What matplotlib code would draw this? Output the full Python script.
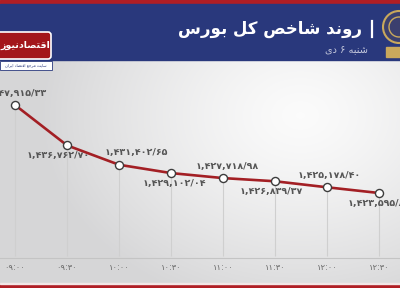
import numpy as np
import matplotlib
matplotlib.use('Agg')
import matplotlib.pyplot as plt
from matplotlib.patches import Rectangle, FancyBboxPatch, Circle

# data
times = ['09:00', '09:30', '10:00', '10:30', '11:00', '11:30', '12:00', '12:30']
index_vals = [1447915.33, 1436762.70, 1431402.65, 1429102.04,
              1427718.98, 1426839.37, 1425178.40, 1423595.80]
label_pos = ['up', 'down', 'up', 'down', 'up', 'down', 'up', 'down']
label_shift = [0, -9, 17, 3, 4, -4, 2, 0]   # px nudges, as in the reference
title = 'روند شاخص کل بورس'
subtitle = 'شنبه ۶ دی'
logo_name = 'اقتصادنیوز'
logo_sub = 'سایت مرجع اقتصاد ایران'

# tiny arabic shaper (iso, fin, ini, med) -- matplotlib does no shaping
FORMS = {
    'ا': ('\uFE8D', '\uFE8E', None, None),
    'ب': ('\uFE8F', '\uFE90', '\uFE91', '\uFE92'),
    'ت': ('\uFE95', '\uFE96', '\uFE97', '\uFE98'),
    'ج': ('\uFE9D', '\uFE9E', '\uFE9F', '\uFEA0'),
    'خ': ('\uFEA5', '\uFEA6', '\uFEA7', '\uFEA8'),
    'د': ('\uFEA9', '\uFEAA', None, None),
    'ر': ('\uFEAD', '\uFEAE', None, None),
    'ز': ('\uFEAF', '\uFEB0', None, None),
    'س': ('\uFEB1', '\uFEB2', '\uFEB3', '\uFEB4'),
    'ش': ('\uFEB5', '\uFEB6', '\uFEB7', '\uFEB8'),
    'ص': ('\uFEB9', '\uFEBA', '\uFEBB', '\uFEBC'),
    'ع': ('\uFEC9', '\uFECA', '\uFECB', '\uFECC'),
    'ق': ('\uFED5', '\uFED6', '\uFED7', '\uFED8'),
    'ل': ('\uFEDD', '\uFEDE', '\uFEDF', '\uFEE0'),
    'م': ('\uFEE1', '\uFEE2', '\uFEE3', '\uFEE4'),
    'ن': ('\uFEE5', '\uFEE6', '\uFEE7', '\uFEE8'),
    'ه': ('\uFEE9', '\uFEEA', '\uFEEB', '\uFEEC'),
    'و': ('\uFEED', '\uFEEE', None, None),
    'ک': ('\uFB8E', '\uFB8F', '\uFB90', '\uFB91'),
    'ی': ('\uFBFC', '\uFBFD', '\uFBFE', '\uFBFF'),
}


def shape(s):
    out = []
    for i, ch in enumerate(s):
        if ch not in FORMS:
            out.append(ch)
            continue
        prev = s[i - 1] if i > 0 else ''
        nxt = s[i + 1] if i + 1 < len(s) else ''
        jp = prev in FORMS and FORMS[prev][2] is not None
        jn = nxt in FORMS and FORMS[ch][2] is not None
        iso, fin, ini, med = FORMS[ch]
        if jp and jn:
            out.append(med)
        elif jp:
            out.append(fin)
        elif jn:
            out.append(ini)
        else:
            out.append(iso)
    return ''.join(reversed(out))


FA = str.maketrans('0123456789.', '۰۱۲۳۴۵۶۷۸۹/')


def fa_num(v):
    return f'{v:,.2f}'.translate(FA)


W, H = 400, 288
PT = 72 / 100.0   # px -> pt
fig = plt.figure(figsize=(4, 2.88), dpi=100)

# background / decoration axes in pixel coords
bg = fig.add_axes([0, 0, 1, 1])
bg.set_xlim(0, W)
bg.set_ylim(H, 0)
bg.axis('off')

yy, xx = np.mgrid[0:H, 0:W]
d = np.sqrt(((xx - 300) / 260.0) ** 2 + ((yy - 115) / 200.0) ** 2)
t = np.clip(d, 0, 1) ** 1.3
lo = np.array([0.985, 0.985, 0.985])
hi = np.array([0.84, 0.84, 0.845])
img = lo[None, None, :] * (1 - t[..., None]) + hi[None, None, :] * t[..., None]
bg.imshow(img, extent=[0, W, H, 0], aspect='auto', zorder=0)

bg.add_patch(Rectangle((0, 0), W, 4, color='#b01e24', zorder=1))
bg.add_patch(Rectangle((0, 4), W, 56, color='#29387c', zorder=1))
bg.add_patch(Rectangle((0, 284), W, 4, color='#b01e24', zorder=1))
bg.add_patch(Rectangle((0, 282.5), W, 1.5, color='#f2e6e6', zorder=1))

# header text
bg.text(362, 29, shape(title), color='white', fontsize=12, fontweight='bold',
        ha='right', va='center', zorder=3)
bg.plot([372, 372], [21, 37], color='white', lw=1.6, zorder=3)
bg.text(368, 50, shape(subtitle), color='#c4c8dc', fontsize=7,
        ha='right', va='center', zorder=3)

# emblem
bg.add_patch(Circle((399, 27), 16, facecolor='#3b3f6e', edgecolor='#c9a85c', lw=1.5, zorder=3))
bg.add_patch(Circle((399, 27), 10, facecolor='none', edgecolor='#c9a85c', lw=1.0, zorder=3))
bg.add_patch(Rectangle((386, 47), 14, 10, color='#c9a85c', zorder=3))

# news logo
bg.add_patch(FancyBboxPatch((-4, 32), 55, 27, boxstyle='round,pad=0,rounding_size=3',
                            facecolor='#a3161b', edgecolor='white', lw=1.2, zorder=3))
bg.text(25.5, 45.5, shape(logo_name), color='white', fontsize=6.8, fontweight='bold',
        ha='center', va='center', zorder=4)
bg.add_patch(Rectangle((0, 61), 52, 9, facecolor='white', edgecolor='#29387c', lw=0.6, zorder=3))
bg.text(26, 65.5, shape(logo_sub), color='#29387c', fontsize=2.9,
        ha='center', va='center', zorder=4)

# chart axes covering the whole figure, mapped to the reference pixel grid
ax = fig.add_axes([0, 0, 1, 1], zorder=2)
ax.patch.set_alpha(0)
ax.axis('off')
x = np.arange(len(times))
px_x0, px_dx = 15, 52
ax.set_xlim(-px_x0 / px_dx, (W - px_x0) / px_dx)
per_px = (index_vals[0] - index_vals[-1]) / (193 - 105)
ax.set_ylim(index_vals[0] - (H - 105) * per_px, index_vals[0] + 105 * per_px)
base = index_vals[0] - (256 - 105) * per_px
axis_y = index_vals[0] - (258 - 105) * per_px

ax.axhline(axis_y, color='#c4c4c4', lw=0.8, zorder=1)
ax.vlines(x, base, index_vals, color='#cfcfcf', lw=0.8, zorder=1)
ax.plot(x, index_vals, color='#a31f24', lw=1.9, zorder=3)
ax.plot(x, index_vals, 'o', ms=5.8, mfc='white', mec='#3d3d3d', mew=1.0, zorder=4)

for xi, v, pos, sh in zip(x, index_vals, label_pos, label_shift):
    dy = 12 if pos == 'up' else -10
    ax.annotate(fa_num(v), (xi, v), xytext=(sh * PT, dy * PT), textcoords='offset points',
                ha='center', va='center', fontsize=6.8, fontweight='bold', color='#555555',
                zorder=5)

for xi, tm in zip(x, times):
    ax.text(xi, 1 - 267 / H, tm.translate(FA), transform=ax.get_xaxis_transform(),
            ha='center', va='center', fontsize=6, color='#6a6a6a')

fig.savefig('out.png', dpi=100)
